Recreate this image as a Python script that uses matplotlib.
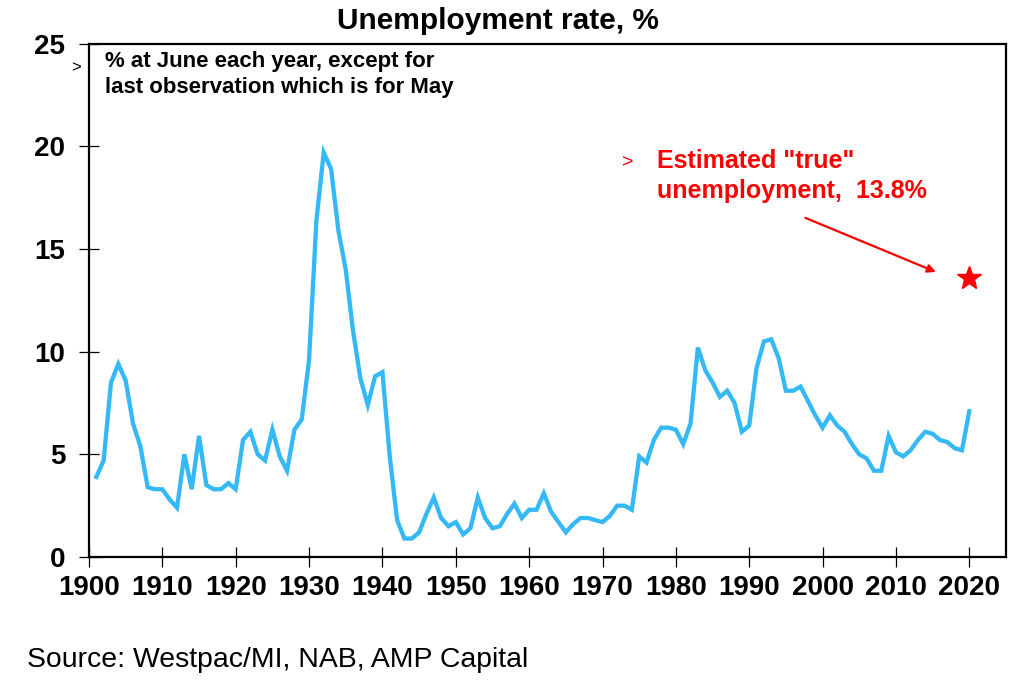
import numpy as np
import matplotlib
matplotlib.use('Agg')
import matplotlib.pyplot as plt

plt.rcParams['font.family'] = ['Liberation Sans', 'DejaVu Sans']

years = np.arange(1901, 2021)
rate = [3.9, 4.7, 8.5, 9.4, 8.6, 6.5, 5.4, 3.4, 3.3, 3.3,
        2.8, 2.4, 5.0, 3.3, 5.9, 3.5, 3.3, 3.3, 3.6, 3.3,
        5.7, 6.1, 5.0, 4.7, 6.2, 4.9, 4.2, 6.2, 6.7, 9.6,
        16.4, 19.7, 18.9, 15.9, 14.0, 11.0, 8.7, 7.4, 8.8, 9.0,
        4.9, 1.8, 0.9, 0.9, 1.2, 2.1, 2.9, 1.9, 1.5, 1.7,
        1.1, 1.4, 2.9, 1.9, 1.4, 1.5, 2.1, 2.6, 1.9, 2.3,
        2.3, 3.1, 2.2, 1.7, 1.2, 1.6, 1.9, 1.9, 1.8, 1.7,
        2.0, 2.5, 2.5, 2.3, 4.9, 4.6, 5.7, 6.3, 6.3, 6.2,
        5.5, 6.5, 10.2, 9.1, 8.5, 7.8, 8.1, 7.5, 6.1, 6.4,
        9.2, 10.5, 10.6, 9.7, 8.1, 8.1, 8.3, 7.6, 6.9, 6.3,
        6.9, 6.4, 6.1, 5.5, 5.0, 4.8, 4.2, 4.2, 5.9, 5.1,
        4.9, 5.2, 5.7, 6.1, 6.0, 5.7, 5.6, 5.3, 5.2, 7.1]
true_year = 2020
true_rate = 13.6

xticks = np.arange(1900, 2021, 10)
yticks = [0, 5, 10, 15, 20, 25]

fig = plt.figure(figsize=(10.24, 6.96), dpi=100)
ax = fig.add_axes([0.0869, 0.1997, 0.8955, 0.7375])

ax.plot(years, rate, color='#35b9f6', lw=3.1, solid_joinstyle='miter')
ax.plot(true_year, true_rate, marker='*', color='red', ms=18, mec='red')

ax.set_xlim(1900, 2025)
ax.set_ylim(0, 25)
ax.set_xticks(xticks)
ax.set_yticks(yticks)
for s in ax.spines.values():
    s.set_linewidth(1.6)
    s.set_color('black')
ax.tick_params(direction='inout', length=14, width=0.9, labelsize=20)
ax.tick_params(axis='x', pad=6)
ax.tick_params(axis='y', pad=10)
for lab in ax.get_xticklabels() + ax.get_yticklabels():
    lab.set_fontweight('bold')

fig.text(0.486, 0.97, 'Unemployment rate, %', ha='center', va='center',
         fontsize=21.5, fontweight='bold')

ax.text(-0.014, 0.954, '>', transform=ax.transAxes, fontsize=12,
        ha='center', va='center')
ax.text(0.0175, 0.985, '% at June each year, except for\nlast observation which is for May',
        transform=ax.transAxes, fontsize=16, fontweight='bold',
        ha='left', va='top', linespacing=1.3)

ax.text(0.588, 0.768, '>', transform=ax.transAxes, fontsize=14,
        color='red', ha='center', va='center')
ax.text(0.619, 0.795, 'Estimated "true"\nunemployment,  13.8%',
        transform=ax.transAxes, fontsize=18, fontweight='bold', color='red',
        ha='left', va='top', linespacing=1.3)
ax.annotate('', xy=(2015.8, 13.83), xytext=(1997.3, 16.57),
            arrowprops=dict(arrowstyle='-|>', color='red', lw=1.6,
                            mutation_scale=12))

fig.text(0.026, 0.052, 'Source: Westpac/MI, NAB, AMP Capital',
         fontsize=20.4, ha='left', va='center')

fig.savefig('out.png', dpi=100)
